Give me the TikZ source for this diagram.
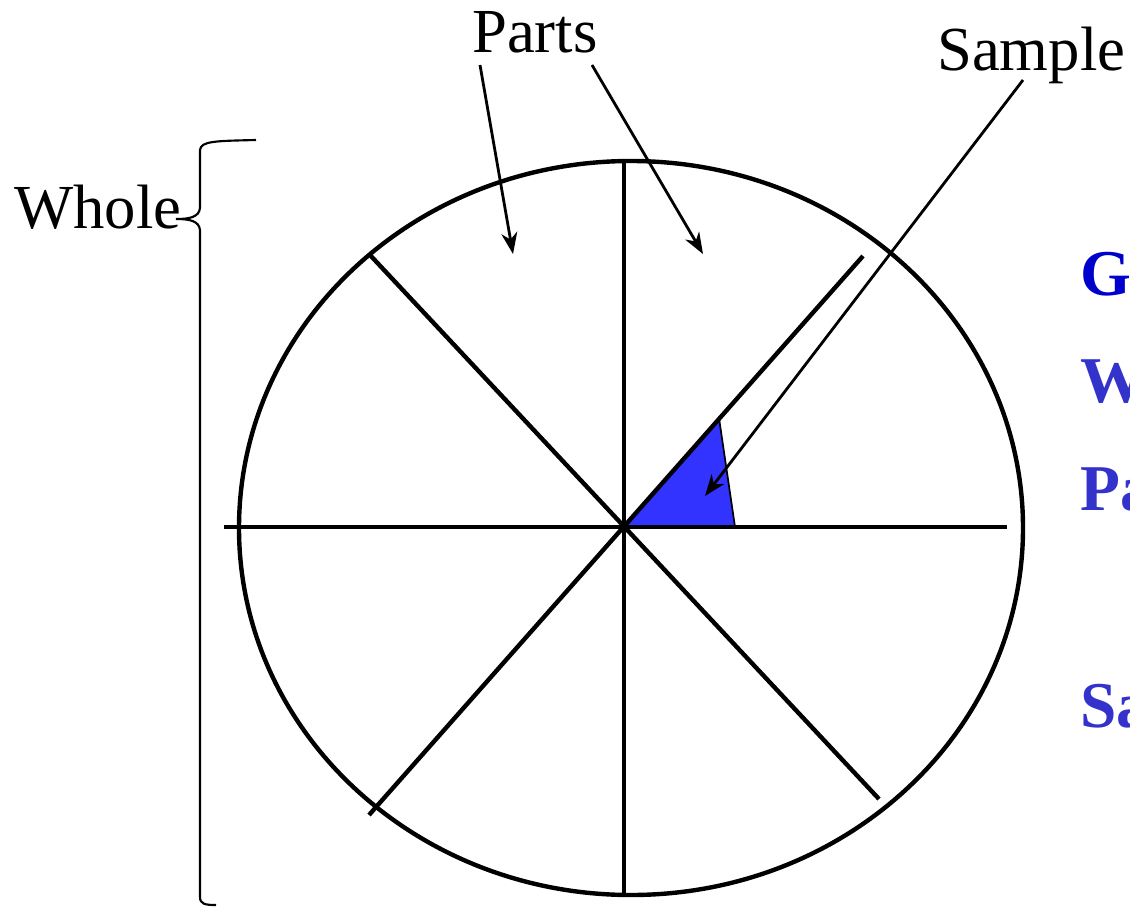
\documentclass[tikz,border=0pt]{standalone}
\usepackage{fontspec}
\setmainfont{Liberation Serif}
\usetikzlibrary{arrows.meta}
\definecolor{gblue}{HTML}{0000CC}
\definecolor{lblue}{HTML}{3333CC}
\definecolor{wedge}{HTML}{3333FF}
\begin{document}
\begin{tikzpicture}[x=0.75pt,y=-0.75pt,
  lbl/.style={inner sep=0pt,anchor=base west,font=\fontsize{47}{50}\selectfont},
  blbl/.style={inner sep=0pt,anchor=base west,font=\fontsize{49}{52}\selectfont\bfseries},
  heavy/.style={line width=3.3pt},
  pointer/.style={line width=2.1pt,-{Stealth[length=16pt,width=12pt,inset=5pt]}},
  bracestyle/.style={line width=1.6pt}]
\clip (0,0) rectangle (1130,906);
\fill[white] (0,0) rectangle (1130,906);
% circle and spokes
\coordinate (c) at (624,527);
\fill[wedge,draw=black,line width=1.3pt] (c) -- (719,418) -- (735,527) -- cycle;
\draw[heavy] (631,528) ellipse [x radius=392, y radius=367];
\coordinate (w) at (224,527);
\coordinate (e) at (1007,527);
\coordinate (n) at (624,159);
\coordinate (s) at (624,894);
\coordinate (nw) at (370,255);
\coordinate (ne) at (863,256);
\coordinate (sw) at (369,815);
\coordinate (se) at (879,799);
\draw[heavy] (w) -- (e);
\draw[heavy] (n) -- (s);
\draw[heavy] (nw) -- (se);
\draw[heavy] (sw) -- (ne);
% labels
\node[lbl] (whole) at (14,228) {Whole};
\node[lbl] (parts) at (472,53) {Parts};
\node[lbl] (sample) at (937,70) {Sample};
\node[blbl,text=gblue] (g) at (1080,295) {G};
\node[blbl,text=lblue] (wl) at (1080,402) {W};
\node[blbl,text=lblue] (pa) at (1080,510) {Pa};
\node[blbl,text=lblue] (sa) at (1080,727) {Sa};
% pointers
\coordinate (p1s) at (480,65);
\coordinate (p1e) at (513,254);
\coordinate (p2s) at (592,65);
\coordinate (p2e) at (703,254);
\coordinate (sms) at (1023,80);
\coordinate (sme) at (705,496);
\draw[pointer] (p1s) -- (p1e);
\draw[pointer] (p2s) -- (p2e);
\draw[pointer] (sms) -- (sme);
% brace
\coordinate (btop) at (256,140);
\coordinate (btip) at (176,219);
\coordinate (bbot) at (216,905);
\draw[bracestyle] (btop) .. controls (215,141) and (201,141) .. (200,150)
  -- (200,208) .. controls (199,217) and (190,219) .. (btip)
  .. controls (190,219) and (199,221) .. (200,230)
  -- (200,897) .. controls (200,904) and (205,905) .. (bbot);
\end{tikzpicture}
\end{document}
